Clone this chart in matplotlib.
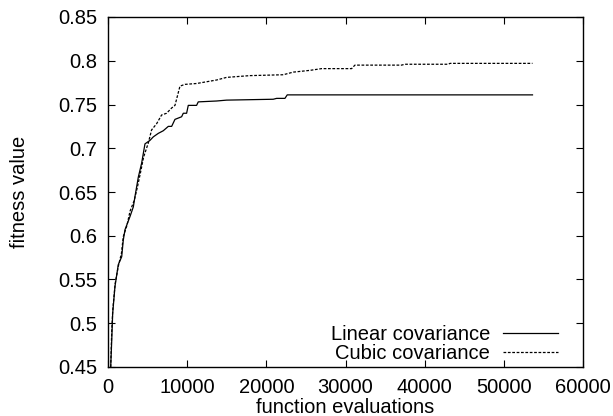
import matplotlib
matplotlib.use("Agg")
import matplotlib.pyplot as plt

# function evaluations / fitness
linear_x = [340, 470, 590, 880, 1300, 1730, 1930, 2150, 2780, 3200, 3410, 3830,
            4040, 4250, 4670, 5300, 5720, 6350, 6980, 7620, 8040, 8460, 9300,
            9510, 9930, 10140, 11190, 11400, 13720, 14980, 20870, 21300, 22350,
            22640, 53620]
linear_y = [0.45, 0.48, 0.511, 0.542, 0.567, 0.576, 0.595, 0.607, 0.622, 0.633,
            0.645, 0.667, 0.675, 0.683, 0.705, 0.709, 0.713, 0.717, 0.720, 0.725,
            0.725, 0.733, 0.736, 0.740, 0.740, 0.749, 0.749, 0.753, 0.754, 0.755,
            0.756, 0.757, 0.757, 0.761, 0.761]

cubic_x = [340, 470, 600, 900, 1300, 1700, 1930, 2400, 2780, 3300, 3700, 4100,
           4500, 5090, 5510, 6140, 6770, 7400, 8040, 8460, 9090, 9720, 11190,
           12460, 13720, 14980, 17930, 22130, 23400, 25500, 26980, 30770, 31190,
           37080, 37500, 42970, 43200, 53620]
cubic_y = [0.45, 0.49, 0.515, 0.545, 0.565, 0.58, 0.599, 0.612, 0.628, 0.640,
           0.655, 0.672, 0.690, 0.706, 0.721, 0.728, 0.738, 0.740, 0.746, 0.749,
           0.771, 0.773, 0.774, 0.776, 0.778, 0.781, 0.783, 0.784, 0.787, 0.789,
           0.791, 0.791, 0.795, 0.795, 0.796, 0.796, 0.797, 0.797]

fs = 14.5
plt.rcParams['font.family'] = ['Liberation Sans', 'DejaVu Sans']
plt.rcParams['font.size'] = fs

fig = plt.figure(figsize=(6.13, 4.16), dpi=100)
ax = fig.add_axes([108 / 613, 1 - 367 / 416, 475 / 613, 350 / 416])

ax.plot(linear_x, linear_y, color='black', lw=0.9, label='Linear covariance')
ax.plot(cubic_x, cubic_y, color='black', lw=0.9, dashes=(2.2, 1.3),
        label='Cubic covariance')

ax.set_xlim(0, 60000)
ax.set_ylim(0.45, 0.85)
ax.set_xticks(range(0, 60001, 10000))
yt = [0.45, 0.5, 0.55, 0.6, 0.65, 0.7, 0.75, 0.8, 0.85]
ax.set_yticks(yt)
ax.set_yticklabels(['%g' % v for v in yt])
ax.tick_params(direction='in', length=5, width=0.8, top=True, right=True,
               labelsize=fs, pad=8)
for s in ax.spines.values():
    s.set_linewidth(1.0)

ax.set_xlabel('function evaluations', labelpad=0.5)
ax.set_ylabel('fitness value', labelpad=21)

ax.legend(loc='lower right', frameon=False, markerfirst=False,
          handlelength=2.7, handletextpad=0.65, labelspacing=0.0,
          borderpad=0, borderaxespad=0, fontsize=fs,
          bbox_to_anchor=(0.947, 0.012))

fig.savefig('out.png', dpi=100)
